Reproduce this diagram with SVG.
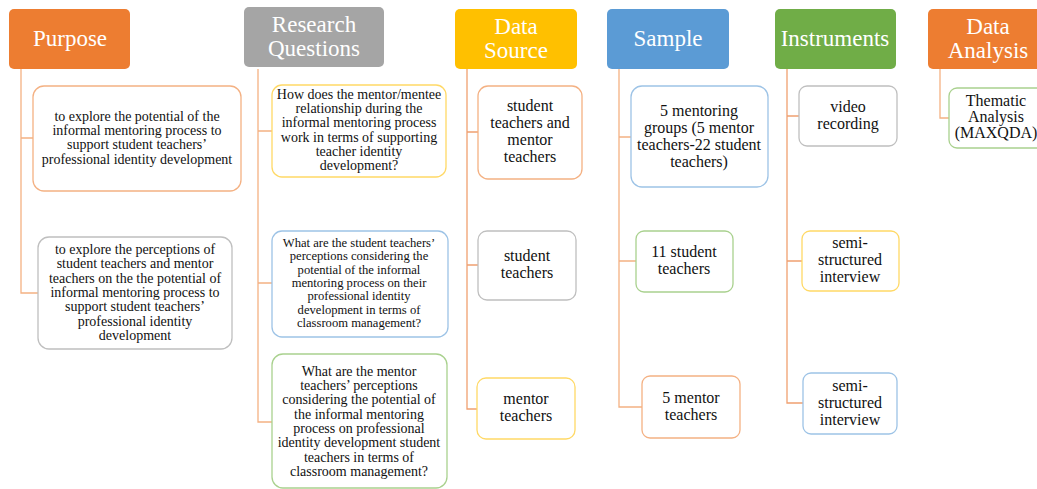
<svg xmlns="http://www.w3.org/2000/svg" width="1037" height="489" viewBox="0 0 1037 489">
<style>
.hd{stroke:none}
.ht{font-family:"Liberation Serif","Times New Roman",serif;font-size:23px;fill:#fff;text-anchor:middle}
.bx{fill:#fff;stroke-width:1.3}
.t{font-family:"Liberation Serif","Times New Roman",serif;font-size:14px;fill:#111;text-anchor:middle}
.ts{font-size:12.6px}
.t2{font-family:"Liberation Serif","Times New Roman",serif;font-size:16px;fill:#111;text-anchor:middle}
.c{fill:none;stroke:#F4B183;stroke-width:1.3}
.or{stroke:#F4B183}.gy{stroke:#BFBFBF}.yl{stroke:#FFD966}.bl{stroke:#9DC3E6}.gn{stroke:#A9D18E}
</style>
<rect width="1037" height="489" fill="#fff"/>
<g id="connectors">
<path class="c" d="M21 69V293H38M21 138H33"/>
<path class="c" d="M258 69V422H272M258 131H272M258 283H272"/>
<path class="c" style="stroke:#F0A070" d="M467 69V409H477M467 132H478M467 265H478"/>
<path class="c" d="M619 69V407H642M619 137H631M619 261H636"/>
<path class="c" style="stroke:#F0A070" d="M787 69V403H803M787 116H799M787 261H802"/>
<path class="c" d="M940 69V118H949"/>
</g>
<g id="h-purpose"><rect class="hd" x="9" y="9" width="121" height="60" rx="5" fill="#ED7D31"/><text class="ht" x="70" y="46">Purpose</text></g>
<g id="h-rq"><rect class="hd" x="244" y="7" width="140" height="60" rx="5" fill="#A5A5A5"/><text class="ht" x="314" y="32">Research</text><text class="ht" x="314" y="56">Questions</text></g>
<g id="h-ds"><rect class="hd" x="455" y="9" width="122" height="60" rx="5" fill="#FFC000"/><text class="ht" x="516" y="34">Data</text><text class="ht" x="516" y="58">Source</text></g>
<g id="h-sample"><rect class="hd" x="607" y="9" width="122" height="60" rx="5" fill="#5B9BD5"/><text class="ht" x="668" y="46">Sample</text></g>
<g id="h-instr"><rect class="hd" x="775" y="9" width="121" height="60" rx="5" fill="#70AD47"/><text class="ht" x="835" y="46">Instruments</text></g>
<g id="h-da"><rect class="hd" x="928" y="9" width="121" height="60" rx="5" fill="#ED7D31"/><text class="ht" x="988" y="34">Data</text><text class="ht" x="988" y="58">Analysis</text></g>

<g id="p1"><rect class="bx or" x="33" y="86" width="208" height="105" rx="11"/>
<text class="t" x="137" y="121">to explore the potential of the</text>
<text class="t" x="137" y="135">informal mentoring process to</text>
<text class="t" x="137" y="149">support student teachers’</text>
<text class="t" x="137" y="164">professional identity development</text></g>
<g id="p2"><rect class="bx gy" x="38" y="237" width="194" height="112" rx="11"/>
<text class="t" x="135" y="254">to explore the perceptions of</text>
<text class="t" x="135" y="268">student teachers and mentor</text>
<text class="t" x="135" y="283">teachers on the the potential of</text>
<text class="t" x="135" y="297">informal mentoring process to</text>
<text class="t" x="135" y="311">support student teachers’</text>
<text class="t" x="135" y="326">professional identity</text>
<text class="t" x="135" y="340">development</text></g>

<g id="rq1"><rect class="bx yl" x="272" y="85" width="174" height="92" rx="10"/>
<text class="t" x="359" y="99">How does the mentor/mentee</text>
<text class="t" x="359" y="113">relationship during the</text>
<text class="t" x="359" y="127">informal mentoring process</text>
<text class="t" x="359" y="142">work in terms of supporting</text>
<text class="t" x="359" y="156">teacher identity</text>
<text class="t" x="359" y="170">development?</text></g>
<g id="rq2"><rect class="bx bl" x="272" y="231" width="176" height="106" rx="10"/>
<text class="t ts" x="359" y="247">What are the student teachers’</text>
<text class="t ts" x="359" y="260">perceptions considering the</text>
<text class="t ts" x="359" y="274">potential of the informal</text>
<text class="t ts" x="359" y="287">mentoring process on their</text>
<text class="t ts" x="359" y="300">professional identity</text>
<text class="t ts" x="359" y="314">development in terms of</text>
<text class="t ts" x="359" y="327">classroom management?</text></g>
<g id="rq3"><rect class="bx gn" x="272" y="354" width="175" height="134" rx="11"/>
<text class="t" x="359" y="376">What are the mentor</text>
<text class="t" x="359" y="390">teachers’ perceptions</text>
<text class="t" x="359" y="404">considering the potential of</text>
<text class="t" x="359" y="419">the informal mentoring</text>
<text class="t" x="359" y="433">process on professional</text>
<text class="t" x="359" y="447">identity development student</text>
<text class="t" x="359" y="462">teachers in terms of</text>
<text class="t" x="359" y="476">classroom management?</text></g>

<g id="ds1"><rect class="bx or" x="478" y="86" width="104" height="93" rx="10"/>
<text class="t2" x="530" y="111">student</text>
<text class="t2" x="530" y="128">teachers and</text>
<text class="t2" x="530" y="145">mentor</text>
<text class="t2" x="530" y="162">teachers</text></g>
<g id="ds2"><rect class="bx gy" x="478" y="231" width="98" height="69" rx="9"/>
<text class="t2" x="527" y="261">student</text>
<text class="t2" x="527" y="278">teachers</text></g>
<g id="ds3"><rect class="bx yl" x="477" y="378" width="98" height="61" rx="9"/>
<text class="t2" x="526" y="404">mentor</text>
<text class="t2" x="526" y="421">teachers</text></g>

<g id="s1"><rect class="bx bl" x="631" y="86" width="137" height="101" rx="11"/>
<text class="t2" x="699" y="116">5 mentoring</text>
<text class="t2" x="699" y="133">groups (5 mentor</text>
<text class="t2" x="699" y="150">teachers-22 student</text>
<text class="t2" x="699" y="167">teachers)</text></g>
<g id="s2"><rect class="bx gn" x="636" y="231" width="97" height="61" rx="8"/>
<text class="t2" x="684" y="257">11 student</text>
<text class="t2" x="684" y="274">teachers</text></g>
<g id="s3"><rect class="bx or" x="642" y="376" width="98" height="62" rx="8"/>
<text class="t2" x="691" y="403">5 mentor</text>
<text class="t2" x="691" y="420">teachers</text></g>

<g id="i1"><rect class="bx gy" x="799" y="86" width="98" height="60" rx="8"/>
<text class="t2" x="848" y="112">video</text>
<text class="t2" x="848" y="129">recording</text></g>
<g id="i2"><rect class="bx yl" x="802" y="231" width="97" height="60" rx="8"/>
<text class="t2" x="850" y="248">semi-</text>
<text class="t2" x="850" y="265">structured</text>
<text class="t2" x="850" y="282">interview</text></g>
<g id="i3"><rect class="bx bl" x="803" y="373" width="94" height="61" rx="8"/>
<text class="t2" x="850" y="391">semi-</text>
<text class="t2" x="850" y="408">structured</text>
<text class="t2" x="850" y="425">interview</text></g>

<g id="da1"><rect class="bx gn" x="949" y="88" width="97" height="60" rx="8"/>
<text class="t2" x="996" y="106">Thematic</text>
<text class="t2" x="996" y="122">Analysis</text>
<text class="t2" x="996" y="138">(MAXQDA)</text></g>
</svg>
